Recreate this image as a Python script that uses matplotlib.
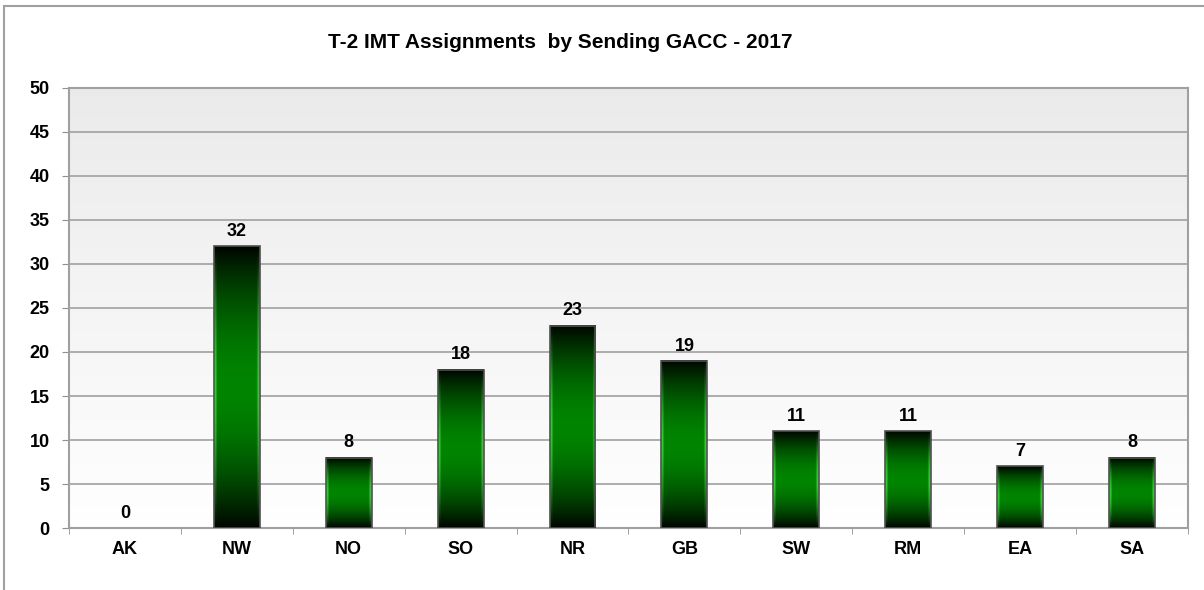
import numpy as np
import matplotlib.pyplot as plt
from matplotlib.patches import Rectangle

# Data
gaccs = ['AK', 'NW', 'NO', 'SO', 'NR', 'GB', 'SW', 'RM', 'EA', 'SA']
assignments = [0, 32, 8, 18, 23, 19, 11, 11, 7, 8]

fig = plt.figure(figsize=(12.04, 5.9), dpi=100)
ax = fig.add_axes([0.0573, 0.105, 0.9294, 0.746])

# outer frame
fig.patches.append(Rectangle((0.003, -0.01), 1.2, 1.0, transform=fig.transFigure,
                             fill=False, edgecolor='#a0a0a0', linewidth=1.5))

n = len(gaccs)
x = np.arange(n)
w = 0.41

# plot area gradient background
bg = np.linspace(0.92, 1.0, 256).reshape(-1, 1)
bg = np.dstack([bg, bg, bg])
ax.imshow(bg, extent=[-0.5, n - 0.5, 0, 50], aspect='auto', origin='upper', zorder=0)

# bar gradient (dark ends, green middle, light green edges)
t = np.linspace(0, 1, 200).reshape(-1, 1)
s = np.linspace(0, 1, 60).reshape(1, -1)
vert = 1 - np.abs(2 * t - 1) ** 1.8
edge = np.clip(1 - np.minimum(s, 1 - s) / 0.07, 0, 1)
r = (0.00 + 0.30 * edge) * vert
g = (0.50 + 0.42 * edge) * vert + 0.02
b = (0.00 + 0.30 * edge) * vert
bar_img = np.dstack([r, g, b])

font = 'Liberation Sans'
for xi, v in zip(x, assignments):
    if v > 0:
        ax.imshow(bar_img, extent=[xi - w / 2, xi + w / 2, 0, v], aspect='auto',
                  origin='upper', zorder=3)
        ax.add_patch(Rectangle((xi - w / 2, 0), w, v, fill=False,
                               edgecolor='#505050', linewidth=1.2, zorder=4))
    ax.text(xi, v + 0.7, str(v), ha='center', va='bottom', fontsize=13,
            fontweight='bold', family=font, zorder=5)

ax.set_xlim(-0.5, n - 0.5)
ax.set_ylim(0, 50)
ax.set_yticks(range(0, 51, 5))
ax.set_xticks(x)
ax.set_xticklabels(gaccs)
ax.set_xticks(np.arange(-0.5, n, 1), minor=True)
ax.tick_params(axis='x', which='major', length=0, pad=9)
ax.tick_params(axis='x', which='minor', length=4, color='#909090', direction='out')
ax.tick_params(axis='y', length=5, color='#909090', pad=9)
for lbl in ax.get_xticklabels() + ax.get_yticklabels():
    lbl.set_fontweight('bold')
    lbl.set_fontsize(13)
    lbl.set_family(font)

ax.grid(axis='y', color='#a0a0a0', linewidth=1.2, zorder=1)
ax.set_axisbelow(True)
for sp in ax.spines.values():
    sp.set_color('#a0a0a0')
    sp.set_linewidth(1.5)

fig.text(0.465, 0.928, 'T-2 IMT Assignments  by Sending GACC - 2017', ha='center',
         va='center', fontsize=15, fontweight='bold', family=font)

fig.savefig('out.png', dpi=100)
